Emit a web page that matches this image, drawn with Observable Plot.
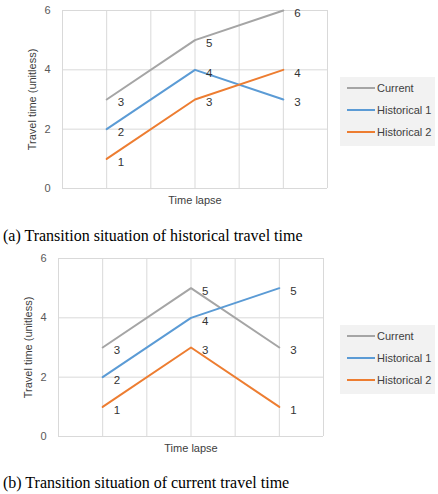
<!DOCTYPE html>
<html>
<head>
<meta charset="utf-8">
<script src="https://cdn.jsdelivr.net/npm/d3@7"></script>
<script src="https://cdn.jsdelivr.net/npm/@observablehq/plot@0.6"></script>
<style>
  body { margin: 0; background: #fff; width: 438px; height: 494px; overflow: hidden;
         font-family: "Liberation Sans", Arial, sans-serif; }
  .panel { position: relative; width: 438px; }
  .panel svg { display: block; }
  .caption { box-sizing: border-box; font-family: "Liberation Serif", "Times New Roman", serif;
             font-size: 16px; line-height: 20px; color: #000; padding-left: 3px; }
  .legend { position: absolute; left: 340px; top: 77px; width: 95px; height: 69px; box-sizing: border-box;
            background: #f2f2f2; padding-top: 0; font-size: 11px; color: #404040; }
  .legend .row { height: 22px; display: flex; align-items: center; }
  .legend .sw { width: 28px; height: 2px; margin-left: 7px; margin-right: 2px; }
</style>
</head>
<body>
<div id="chart"></div>
<script>
// time points and series
var times = [1, 2, 3];
var seriesNames = ["Current", "Historical 1", "Historical 2"];
var seriesColors = ["#a5a5a5", "#5b9bd5", "#ed7d31"];
var yTicks = [0, 2, 4, 6];
var gridTimes = [0.5, 1, 1.5, 2, 2.5, 3, 3.5];

// (a) historical travel time changes
var currentA = [3, 5, 6];
var hist1A = [2, 4, 3];
var hist2A = [1, 3, 4];

// (b) current travel time changes
var currentB = [3, 5, 3];
var hist1B = [2, 4, 5];
var hist2B = [1, 3, 1];

var captionA = "(a) Transition situation of historical travel time";
var captionB = "(b) Transition situation of current travel time";

function toRows(seriesValues) {
    var rows = [];
    seriesNames.forEach(function(name, i) {
        seriesValues[i].forEach(function(v, j) {
            rows.push({ series: name, t: times[j], v: v });
        });
    });
    return rows;
}

function makePanel(seriesValues, marginLeft, marginRight, captionText, captionPad, captionHeight) {
    var rows = toRows(seriesValues);
    var root = document.getElementById("chart");

    var panel = document.createElement("div");
    panel.className = "panel";

    var plot = Plot.plot({
        width: 438,
        height: 213,
        marginTop: 10,
        marginBottom: 25,
        marginLeft: marginLeft,
        marginRight: marginRight,
        style: { fontFamily: "Liberation Sans, Arial, sans-serif", fontSize: "11px", color: "#595959", background: "transparent" },
        x: { domain: [0.5, 3.5], axis: null },
        y: { domain: [0, 6], axis: null },
        color: { domain: seriesNames, range: seriesColors },
        marks: [
            Plot.gridX(gridTimes, { stroke: "#d9d9d9", strokeOpacity: 1 }),
            Plot.gridY(yTicks, { stroke: "#d9d9d9", strokeOpacity: 1 }),
            Plot.axisY(yTicks, { tickSize: 0, tickPadding: 12, label: null, fill: "#595959" }),
            Plot.text(["Travel time (unitless)"], {
                text: function(d) { return d; },
                frameAnchor: "left", textAnchor: "middle", rotate: -90, dx: -30, fontSize: 11, fill: "#404040"
            }),
            Plot.text(["Time lapse"], {
                text: function(d) { return d; },
                frameAnchor: "bottom", lineAnchor: "middle", dy: 12, fontSize: 11, fill: "#404040"
            }),
            Plot.line(rows, { x: "t", y: "v", z: "series", stroke: "series", strokeWidth: 2 }),
            Plot.text(rows, { x: "t", y: "v", text: "v", dx: 11, dy: 3, textAnchor: "start", fontSize: 11.5, fill: "#333" })
        ]
    });
    panel.appendChild(plot);

    var legend = document.createElement("div");
    legend.className = "legend";
    seriesNames.forEach(function(name, i) {
        var row = document.createElement("div");
        row.className = "row";
        var sw = document.createElement("span");
        sw.className = "sw";
        sw.style.background = seriesColors[i];
        var label = document.createElement("span");
        label.textContent = name;
        row.appendChild(sw);
        row.appendChild(label);
        legend.appendChild(row);
    });
    panel.appendChild(legend);
    root.appendChild(panel);

    var cap = document.createElement("div");
    cap.className = "caption";
    cap.style.paddingTop = captionPad + "px";
    cap.style.height = captionHeight + "px";
    cap.textContent = captionText;
    root.appendChild(cap);
}

makePanel([currentA, hist1A, hist2A], 62, 111, captionA, 13, 35);
makePanel([currentB, hist1B, hist2B], 58, 115, captionB, 12, 33);
</script>
</body>
</html>
